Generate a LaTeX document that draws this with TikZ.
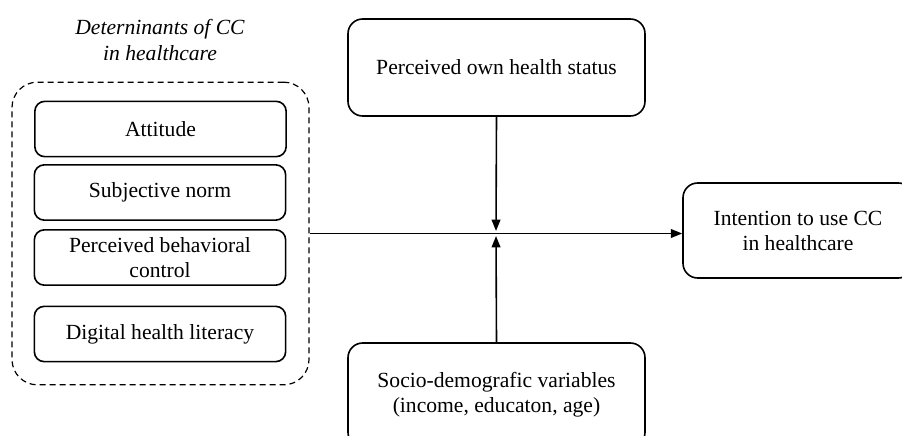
\documentclass[tikz,border=0pt]{standalone}
\usepackage{fontspec}
\setmainfont{Liberation Serif}
\usetikzlibrary{arrows.meta}
\begin{document}
\begin{tikzpicture}[x=0.75pt,y=-0.75pt,
  every node/.style={font=\fontsize{16.2}{18.8}\selectfont, align=center, inner sep=0pt},
  smallbox/.style={draw, line width=1.2pt, rounded corners=7.5pt, minimum width=188.5pt, minimum height=41.5pt},
  bigbox/.style={draw, line width=1.2pt, rounded corners=11pt, minimum width=222.75pt},
  grp/.style={draw, dash pattern=on 4.5pt off 3pt, line width=0.9pt, rounded corners=19pt, minimum width=222.75pt, minimum height=227pt},
  arr/.style={line width=1.2pt, -{Triangle[length=8.5pt,width=6.5pt]}}
]
\useasboundingbox (0,0) rectangle (902,435);
\clip (0,0) rectangle (902,435);
\node[font=\fontsize{16.2}{18.8}\selectfont\itshape] (title) at (160,40) {Deterninants of CC\\in healthcare};
\node[grp] (grp) at (160.5,233.5) {};
\node[smallbox] (att) at (160.5,129) {Attitude};
\node[smallbox] (sn) at (160,192.5) {Subjective norm};
\node[smallbox] (pbc) at (160,257.5) {Perceived behavioral\\control};
\node[smallbox] (dhl) at (160,334) {Digital health literacy};
\node[bigbox, minimum height=72.75pt] (hs) at (496.5,67.5) {Perceived own health status};
\node[bigbox, minimum height=78pt] (sd) at (496.5,395) {Socio-demografic variables\\(income, educaton, age)};
\node[bigbox, minimum width=172.5pt, minimum height=71.25pt] (int) at (798,230.5) {Intention to use CC\\in healthcare};
\coordinate (mtop) at (496,231);
\coordinate (mbot) at (496,236);
\draw[arr] (grp.east) -- (int.west |- grp.east);
\draw[arr] (hs.south) -- (mtop);
\draw[arr] (sd.north) -- (mbot);
\end{tikzpicture}
\end{document}
